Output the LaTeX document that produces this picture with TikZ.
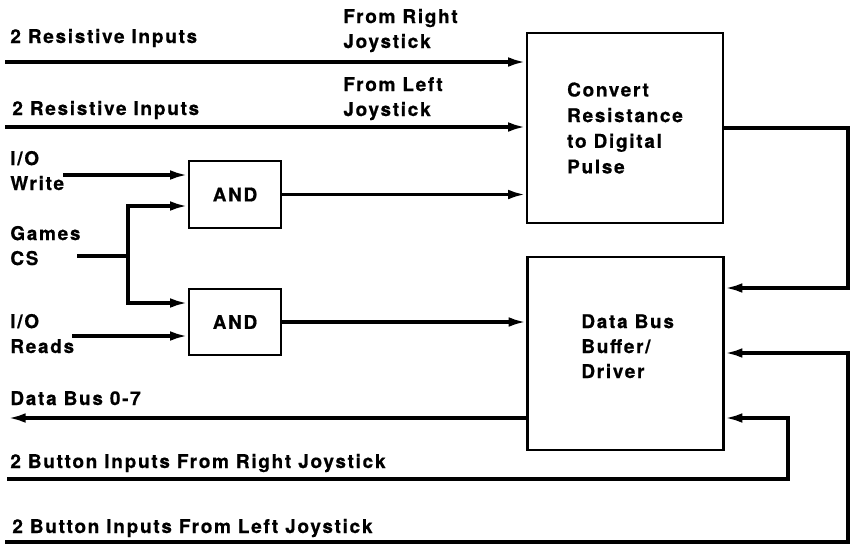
\documentclass[tikz,border=0pt]{standalone}
\usepackage{fontspec}
\newfontfamily\diagfont{TeX Gyre Heros}[LetterSpace=9, FakeBold=0.6]
\usetikzlibrary{arrows.meta, positioning, calc}

\begin{document}
\begin{tikzpicture}[
    x=0.02cm, y=-0.02cm,
    block/.style={draw, line width=1.4pt, minimum width=3.92cm, minimum height=3.8cm,
                  font=\diagfont\bfseries\fontsize{10.8}{14.6}\selectfont, align=left},
    gate/.style={draw, line width=1.4pt, minimum width=1.84cm, minimum height=1.33cm,
                 font=\diagfont\bfseries\fontsize{10.8}{14.6}\selectfont},
    arrow/.style={-{Latex[length=10pt, width=5.5pt]}, line width=1.9pt},
    wire/.style={line width=1.9pt},
    sig/.style={font=\diagfont\bfseries\fontsize{10.8}{14.2}\selectfont, align=left,
                inner sep=0pt, anchor=base west}
  ]
  \useasboundingbox (0,0) rectangle (852,545);

  % blocks
  \node[block] (conv) at (625,128) {Convert\\Resistance\\to Digital\\Pulse};
  \node[block, minimum height=3.86cm] (bus) at (625.5,353.5) {};
  \node[sig] (bustxt) at (581,378) {Data Bus\\Buffer/\\Driver};
  \node[gate] (and1) at (235,194.5) {AND};
  \node[gate] (and2) at (235,322) {AND};

  % signal names (base = last line)
  \node[sig] (res1) at (10,43) {2 Resistive Inputs};
  \node[sig] (frright) at (343,48) {From Right\\Joystick};
  \node[sig] (res2) at (12,115) {2 Resistive Inputs};
  \node[sig] (frleft) at (343,116) {From Left\\Joystick};
  \node[sig] (iow) at (10,190) {I/O\\Write};
  \node[sig] (gcs) at (10,265) {Games\\CS};
  \node[sig] (ior) at (10,353) {I/O\\Reads};
  \node[sig] (dbus) at (10,405) {Data Bus 0-7};
  \node[sig] (btnr) at (10,468) {2 Button Inputs From Right Joystick};
  \node[sig] (btnl) at (12,533) {2 Button Inputs From Left Joystick};

  % wire ends and bends
  \coordinate (r1) at (5,62);
  \coordinate (l1) at (5,127);
  \coordinate (wr) at (63,175);
  \coordinate (cs) at (77,256);
  \coordinate (csfork) at (128,256);
  \coordinate (rd) at (72,336);
  \coordinate (dout) at (8,418);
  \coordinate (cturn) at (848,128);
  \coordinate (bR) at (7,479);
  \coordinate (bRturn) at (788,479);
  \coordinate (bL) at (5,542);
  \coordinate (bLturn) at (848,542);

  % connections
  \draw[arrow] (r1) -- (r1 -| conv.west);
  \draw[arrow] (l1) -- (l1 -| conv.west);
  \draw[arrow] (and1.east) -- (and1.east -| conv.west);
  \draw[arrow] (wr) -- (wr -| and1.west);
  \draw[wire] (cs) -- (csfork);
  \draw[arrow] (csfork) |- (and1.west |- 0,206);
  \draw[arrow] (csfork) |- (and2.west |- 0,303);
  \draw[arrow] (rd) -- (rd -| and2.west);
  \draw[arrow] (and2.east) -- (and2.east -| bus.west);
  \draw[arrow] (dout -| bus.west) -- (dout);
  \draw[arrow] (conv.east) -- (cturn) |- (bus.east |- 0,288);
  \draw[arrow] (bR) -- (bRturn) |- (bus.east |- 0,418);
  \draw[arrow] (bL) -- (bLturn) |- (bus.east |- 0,353);
\end{tikzpicture}
\end{document}
